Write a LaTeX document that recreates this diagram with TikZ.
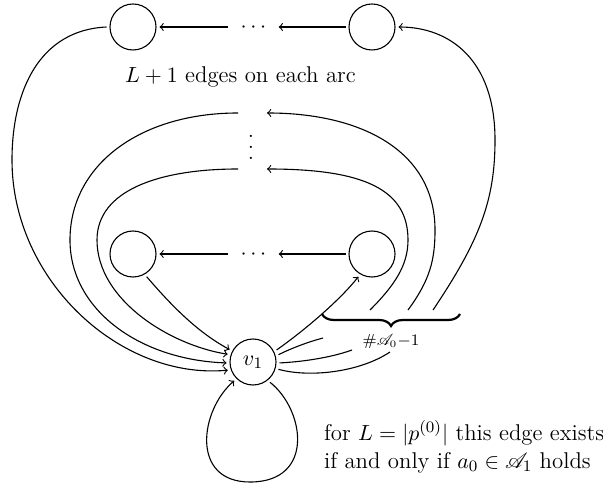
\documentclass[tikz,border=0pt]{standalone}
\usepackage{mathrsfs}
\usetikzlibrary{decorations.pathreplacing}
\begin{document}
\begin{tikzpicture}[x=0.5pt,y=-0.5pt,font=\fontsize{11.4}{14}\selectfont,
  vert/.style={circle,draw,minimum size=23pt,inner sep=0pt,outer sep=1.75pt,line width=0.55pt},
  edge/.style={->,line width=0.55pt},
  seg/.style={line width=0.55pt},
  dotsnode/.style={inner xsep=6pt,inner ysep=0pt,anchor=base}]
\useasboundingbox (0,0) rectangle (603,485);

% nodes
\node[vert] (tl) at (133,27) {};
\node[vert] (tr) at (372,27) {};
\node[dotsnode] (td) at (253.5,32.7) {$\cdots$};
\node[vert] (ml) at (133,254) {};
\node[vert] (mr) at (372,254) {};
\node[dotsnode] (md) at (253.5,259.7) {$\cdots$};
\node[vert] (v1) at (253,362) {$v_1$};
\node (vd) at (251,147.5) {\vbox{\baselineskip=5.5pt\lineskiplimit=0pt\hbox{.}\hbox{.}\hbox{.}}};

\node[anchor=base] (lbl) at (240.5,83) {$L+1$ edges on each arc};
\node[anchor=base west] (c1) at (317,440) {for $L=|p^{(0)}|$ this edge exists};
\node[anchor=base west] (c2) at (317,468) {if and only if $a_0\in\mathscr{A}_1$ holds};

% coordinates
\coordinate (uR) at (267,113);
\coordinate (uL) at (238,113);
\coordinate (lR) at (267,169);
\coordinate (lL) at (238,169);
\coordinate (b3) at (370,310);
\coordinate (b2) at (408,310);
\coordinate (b1) at (433,310);
\coordinate (e2) at (323,338);
\coordinate (e3) at (352,350);
\coordinate (e4) at (390,352);
\coordinate (bl) at (322,314);
\coordinate (br) at (460,314);

% horizontal chains
\draw[edge] (tr.west) -- (td.east |- tr.west);
\draw[edge] (td.west |- tl.east) -- (tl.east);
\draw[edge] (mr.west) -- (md.east |- mr.west);
\draw[edge] (md.west |- ml.east) -- (ml.east);

% left arcs into v1
\draw[edge] (tl.west) .. controls (40,30) and (12,90) .. (12,160)
   .. controls (12,280) and (120,380) .. (v1.198);
\draw[edge] (uL) .. controls (140,113) and (70,165) .. (70,240)
   .. controls (70,310) and (140,360) .. (v1.182);
\draw[edge] (lL) .. controls (160,169) and (97,190) .. (97,240)
   .. controls (97,300) and (170,345) .. (v1.163);
\draw[edge] (ml.-59) .. controls (171,305) and (197,332) .. (v1.152);

% right arcs (upper parts)
\draw[edge] (b3) .. controls (395,285) and (408,265) .. (408,240)
   .. controls (408,190) and (365,169) .. (lR);
\draw[edge] (b2) .. controls (430,280) and (435,260) .. (435,230)
   .. controls (435,150) and (360,113) .. (uR);
\draw[edge] (b1) .. controls (480,240) and (495,200) .. (495,140)
   .. controls (495,60) and (450,27) .. (tr.east);

% right arcs (lower parts from v1)
\draw[edge] (v1.27) .. controls (305,330) and (340,300) .. (mr.239);
\draw[seg] (v1.16) .. controls (292,348) and (308,342) .. (e2);
\draw[seg] (v1.-2) .. controls (300,362) and (330,358) .. (e3);
\draw[seg] (v1.-16) .. controls (310,378) and (360,372) .. (e4);

% brace and label
\draw[line width=1.1pt,decorate,decoration={brace,mirror,amplitude=6pt}] (bl) -- (br);
\node[font=\fontsize{7.6}{9}\selectfont] (blab) at (391,341) {$\#\mathscr{A}_0{-}1$};

% self loop
\draw[edge] (v1.-50) .. controls (305,410) and (315,482) .. (250,482)
   .. controls (190,482) and (200,410) .. (v1.225);
\end{tikzpicture}
\end{document}
